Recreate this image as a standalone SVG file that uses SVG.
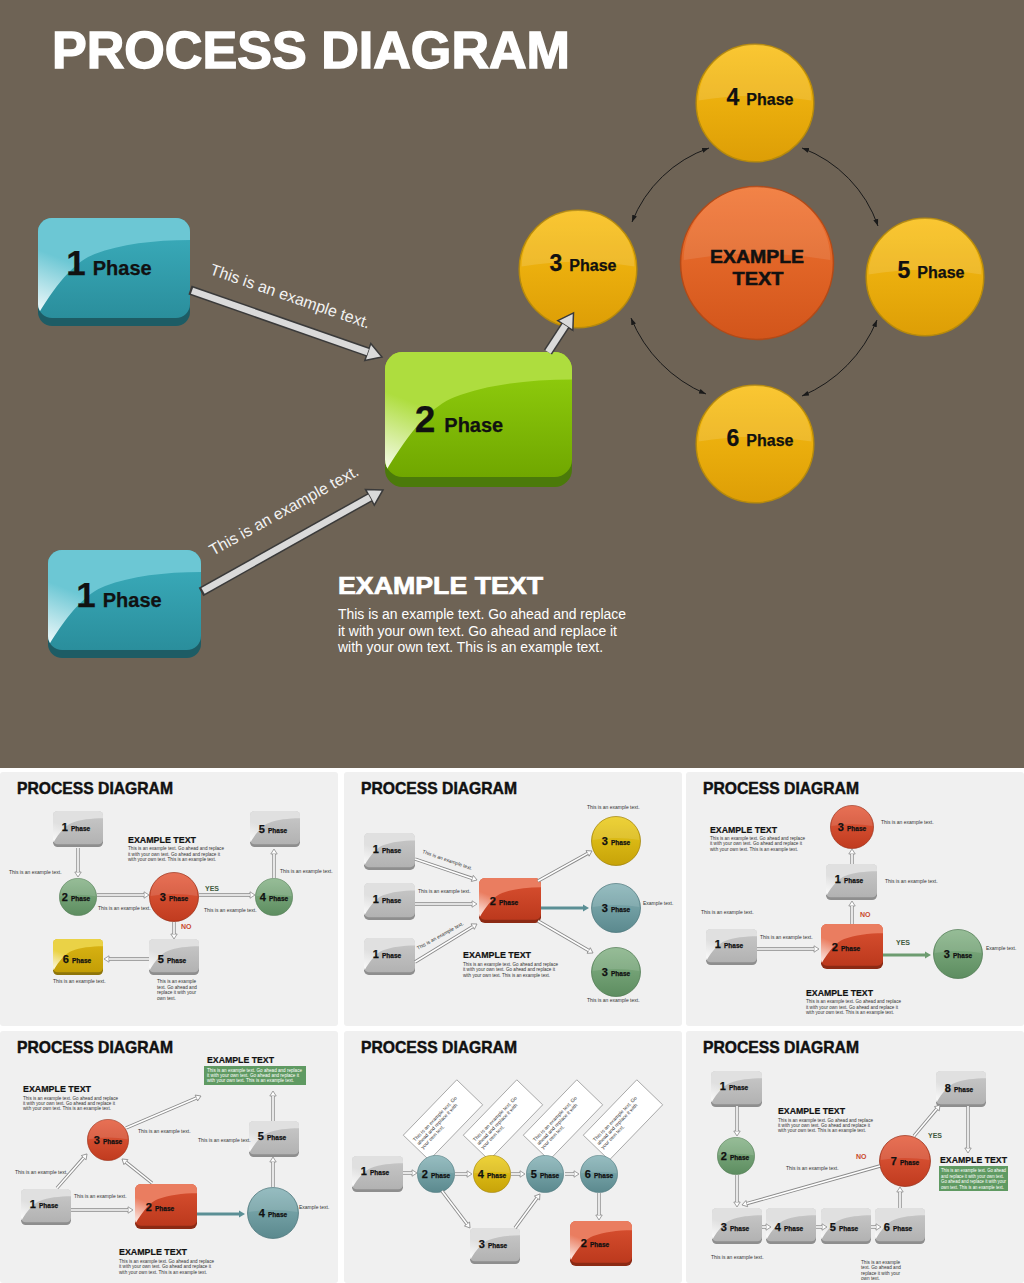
<svg xmlns="http://www.w3.org/2000/svg" xmlns:xlink="http://www.w3.org/1999/xlink" width="1024" height="1283" viewBox="0 0 1024 1283">
<style>
text{font-family:"Liberation Sans",Arial,Helvetica,sans-serif}
.big{font-size:52px;font-weight:bold;fill:#fff;stroke:#fff;stroke-width:1.4}
.rt{font-size:16px;fill:#f2f2f2}
.wh{font-size:24px;font-weight:bold;fill:#fff;stroke:#fff;stroke-width:.7}
.wp{font-size:14px;fill:#fff}
.lb{fill:#111;font-weight:bold;stroke:#111;stroke-width:.25}
.n35{font-size:35px}.p20{font-size:20px}
.n23{font-size:23px}.p16{font-size:16px}
.ct{font-size:18px;font-weight:bold;fill:#111;stroke:#111;stroke-width:.5}
.n{font-size:11px}.p{font-size:6.5px}
.tt{font-size:15.7px;font-weight:bold;fill:#111;stroke:#111;stroke-width:.45}
.h{font-size:9px;font-weight:bold;fill:#111;stroke:#111;stroke-width:.2}
.s{font-size:5px;fill:#333}
.pp{font-size:4.7px;fill:#333}
.gp{font-size:4.6px;fill:#fff}
.yes{font-size:7px;font-weight:bold;fill:#3f5a40}
.no{font-size:7px;font-weight:bold;fill:#c9482c}
.pan{fill:#f0f0f0}
.nb{fill:#fff;stroke:#7a7a7a;stroke-width:.6}
.co{fill:none;stroke:#8a8a8a;stroke-width:3.4;marker-end:url(#mh)}
.ci{fill:none;stroke:#fff;stroke-width:1.6}
.bo{fill:none;stroke:#3a3a3a;stroke-width:9.5;marker-end:url(#mb)}
.bi{fill:none;stroke:#dadada;stroke-width:6.5}
.arc{fill:none;stroke:#1a1a1a;stroke-width:1;marker-start:url(#mk);marker-end:url(#mk)}
.st{fill:none;stroke:#5b8f95;stroke-width:3;marker-end:url(#mt)}
.sg{fill:none;stroke:#6d9c70;stroke-width:3;marker-end:url(#mg)}
</style>
<defs>
<clipPath id="clb"><rect width="150" height="100" rx="14"/></clipPath>
<linearGradient id="fT" x1="0" y1="0" x2="0" y2="1"><stop offset="0" stop-color="#3cafbe"/><stop offset="1" stop-color="#2a8e9c"/></linearGradient>
<linearGradient id="wT" x1="0" y1="1" x2="0.3" y2="0.5"><stop offset="0" stop-color="#fff"/><stop offset="1" stop-color="#6cc7d4"/></linearGradient>
<linearGradient id="fG" x1="0" y1="0" x2="0" y2="1"><stop offset="0" stop-color="#94d20f"/><stop offset="1" stop-color="#70a700"/></linearGradient>
<linearGradient id="wG" x1="0" y1="1" x2="0.3" y2="0.5"><stop offset="0" stop-color="#fff"/><stop offset="1" stop-color="#aedd3e"/></linearGradient>
<linearGradient id="fS" x1="0" y1="0" x2="0" y2="1"><stop offset="0" stop-color="#c9c9c9"/><stop offset="1" stop-color="#b2b2b2"/></linearGradient>
<linearGradient id="wS" x1="0" y1="1" x2="0.3" y2="0.5"><stop offset="0" stop-color="#fff"/><stop offset="1" stop-color="#e0e0e0"/></linearGradient>
<linearGradient id="fR" x1="0" y1="0" x2="0" y2="1"><stop offset="0" stop-color="#da5131"/><stop offset="1" stop-color="#bc391d"/></linearGradient>
<linearGradient id="wR" x1="0" y1="1" x2="0.3" y2="0.5"><stop offset="0" stop-color="#fff"/><stop offset="1" stop-color="#ea7d60"/></linearGradient>
<linearGradient id="fY" x1="0" y1="0" x2="0" y2="1"><stop offset="0" stop-color="#dcb615"/><stop offset="1" stop-color="#c39e06"/></linearGradient>
<linearGradient id="wY" x1="0" y1="1" x2="0.3" y2="0.5"><stop offset="0" stop-color="#fff"/><stop offset="1" stop-color="#ead246"/></linearGradient>
<linearGradient id="gY" x1="0" y1="0" x2="0" y2="1"><stop offset="0" stop-color="#f9bf14"/><stop offset="1" stop-color="#dd9e06"/></linearGradient>
<linearGradient id="gO" x1="0" y1="0" x2="0" y2="1"><stop offset="0" stop-color="#f17533"/><stop offset="1" stop-color="#d2551b"/></linearGradient>
<linearGradient id="gR" x1="0" y1="0" x2="0" y2="1"><stop offset="0" stop-color="#e55d3e"/><stop offset="1" stop-color="#c03b1f"/></linearGradient>
<linearGradient id="gG" x1="0" y1="0" x2="0" y2="1"><stop offset="0" stop-color="#88b489"/><stop offset="1" stop-color="#5d8d60"/></linearGradient>
<linearGradient id="gT" x1="0" y1="0" x2="0" y2="1"><stop offset="0" stop-color="#88b4b8"/><stop offset="1" stop-color="#5b898e"/></linearGradient>
<linearGradient id="gD" x1="0" y1="0" x2="0" y2="1"><stop offset="0" stop-color="#ebcc1d"/><stop offset="1" stop-color="#c7a309"/></linearGradient>
<symbol id="bT" viewBox="0 0 150 108" preserveAspectRatio="none"><rect y="8" width="150" height="100" rx="14" fill="#1d5c65"/><rect width="150" height="100" rx="14" fill="url(#fT)"/><path clip-path="url(#clb)" d="M-2,100 L-2,-2 H152 V22 C115,22 82,26 56,36 C38,43 20,62 -2,100 Z" fill="url(#wT)"/></symbol>
<symbol id="bG" viewBox="0 0 150 108" preserveAspectRatio="none"><rect y="8" width="150" height="100" rx="14" fill="#4b7a0a"/><rect width="150" height="100" rx="14" fill="url(#fG)"/><path clip-path="url(#clb)" d="M-2,100 L-2,-2 H152 V22 C115,22 82,26 56,36 C38,43 20,62 -2,100 Z" fill="url(#wG)"/></symbol>
<symbol id="bS" viewBox="0 0 150 108" preserveAspectRatio="none"><rect y="8" width="150" height="100" rx="14" fill="#8e8e8e"/><rect width="150" height="100" rx="14" fill="url(#fS)"/><path clip-path="url(#clb)" d="M-2,100 L-2,-2 H152 V22 C115,22 82,26 56,36 C38,43 20,62 -2,100 Z" fill="url(#wS)"/></symbol>
<symbol id="bR" viewBox="0 0 150 108" preserveAspectRatio="none"><rect y="8" width="150" height="100" rx="14" fill="#8c2a14"/><rect width="150" height="100" rx="14" fill="url(#fR)"/><path clip-path="url(#clb)" d="M-2,100 L-2,-2 H152 V22 C115,22 82,26 56,36 C38,43 20,62 -2,100 Z" fill="url(#wR)"/></symbol>
<symbol id="bY" viewBox="0 0 150 108" preserveAspectRatio="none"><rect y="8" width="150" height="100" rx="14" fill="#8e750a"/><rect width="150" height="100" rx="14" fill="url(#fY)"/><path clip-path="url(#clb)" d="M-2,100 L-2,-2 H152 V22 C115,22 82,26 56,36 C38,43 20,62 -2,100 Z" fill="url(#wY)"/></symbol>
<symbol id="cY" viewBox="0 0 100 100"><circle cx="50" cy="50" r="49" fill="url(#gY)" stroke="#b68a0c" stroke-width="1.2"/><path d="M3,48 A47,47 0 0 1 97,48 Q50,40 3,48 Z" fill="#fff" opacity=".13"/></symbol>
<symbol id="cO" viewBox="0 0 100 100"><circle cx="50" cy="50" r="49" fill="url(#gO)" stroke="#b24a18" stroke-width="1"/><path d="M3,48 A47,47 0 0 1 97,48 Q50,40 3,48 Z" fill="#fff" opacity=".1"/></symbol>
<symbol id="cR" viewBox="0 0 100 100"><circle cx="50" cy="50" r="49" fill="url(#gR)" stroke="#9a3018" stroke-width="1.5"/><path d="M3,48 A47,47 0 0 1 97,48 Q50,40 3,48 Z" fill="#fff" opacity=".12"/></symbol>
<symbol id="cG" viewBox="0 0 100 100"><circle cx="50" cy="50" r="49" fill="url(#gG)" stroke="#4f7a52" stroke-width="1.5"/><path d="M3,48 A47,47 0 0 1 97,48 Q50,40 3,48 Z" fill="#fff" opacity=".12"/></symbol>
<symbol id="cT" viewBox="0 0 100 100"><circle cx="50" cy="50" r="49" fill="url(#gT)" stroke="#4d777c" stroke-width="1.5"/><path d="M3,48 A47,47 0 0 1 97,48 Q50,40 3,48 Z" fill="#fff" opacity=".12"/></symbol>
<symbol id="cD" viewBox="0 0 100 100"><circle cx="50" cy="50" r="49" fill="url(#gD)" stroke="#a08208" stroke-width="1.5"/><path d="M3,48 A47,47 0 0 1 97,48 Q50,40 3,48 Z" fill="#fff" opacity=".12"/></symbol>
<marker id="mh" viewBox="-1 -4 7 8" refX="0" refY="0" markerWidth="7" markerHeight="8" markerUnits="userSpaceOnUse" orient="auto"><path d="M0,-3.2 L5,0 L0,3.2 Z" fill="#fff" stroke="#8a8a8a" stroke-width=".8"/></marker>
<marker id="mt" viewBox="0 -4 6 8" refX="0" refY="0" markerWidth="6" markerHeight="8" markerUnits="userSpaceOnUse" orient="auto"><path d="M0,-3.6 L6,0 L0,3.6 Z" fill="#5b8f95"/></marker>
<marker id="mg" viewBox="0 -4 6 8" refX="0" refY="0" markerWidth="6" markerHeight="8" markerUnits="userSpaceOnUse" orient="auto"><path d="M0,-3.6 L6,0 L0,3.6 Z" fill="#6d9c70"/></marker>
<marker id="mb" viewBox="-1 -11 18 22" refX="0" refY="0" markerWidth="18" markerHeight="22" markerUnits="userSpaceOnUse" orient="auto"><path d="M0,-9 L15,0 L0,9 Z" fill="#dadada" stroke="#3a3a3a" stroke-width="1.5"/></marker>
<marker id="mk" viewBox="0 -3 7 6" refX="7" refY="0" markerWidth="7" markerHeight="6" markerUnits="userSpaceOnUse" orient="auto-start-reverse"><path d="M0,-2.5 L7,0 L0,2.5 Z" fill="#1a1a1a"/></marker>
</defs>

<!-- backgrounds -->
<rect width="1024" height="1283" fill="#fff"/>
<rect width="1024" height="768" fill="#6e6355"/>
<rect class="pan" x="0" y="772" width="338" height="254" rx="3"/>
<rect class="pan" x="344" y="772" width="338" height="254" rx="3"/>
<rect class="pan" x="686" y="772" width="338" height="254" rx="3"/>
<rect class="pan" x="0" y="1031" width="338" height="252" rx="3"/>
<rect class="pan" x="344" y="1031" width="338" height="252" rx="3"/>
<rect class="pan" x="686" y="1031" width="338" height="252" rx="3"/>

<!-- ===== main diagram ===== -->
<text class="big" x="52" y="68" textLength="518" lengthAdjust="spacingAndGlyphs">PROCESS DIAGRAM</text>

<g id="m-n1a" transform="translate(38,218)"><use href="#bT" width="152" height="108"/><text class="lb" x="71" y="57" text-anchor="middle"><tspan class="n35">1</tspan><tspan class="p20" dx="7">Phase</tspan></text></g>
<g id="m-n1b" transform="translate(48,550)"><use href="#bT" width="153" height="108"/><text class="lb" x="71" y="57" text-anchor="middle"><tspan class="n35">1</tspan><tspan class="p20" dx="7">Phase</tspan></text></g>
<g id="m-n2" transform="translate(385,352)"><use href="#bG" width="187" height="135"/><text class="lb" x="74" y="80" text-anchor="middle"><tspan style="font-size:37px">2</tspan><tspan class="p20" dx="9">Phase</tspan></text></g>
<g id="m-c3"><use href="#cY" x="518" y="209" width="120" height="120"/><text class="lb" x="583" y="271" text-anchor="middle"><tspan class="n23">3</tspan><tspan class="p16" dx="7">Phase</tspan></text></g>
<g id="m-c4"><use href="#cY" x="695" y="43" width="120" height="120"/><text class="lb" x="760" y="105" text-anchor="middle"><tspan class="n23">4</tspan><tspan class="p16" dx="7">Phase</tspan></text></g>
<g id="m-c5"><use href="#cY" x="865" y="217" width="120" height="120"/><text class="lb" x="931" y="278" text-anchor="middle"><tspan class="n23">5</tspan><tspan class="p16" dx="7">Phase</tspan></text></g>
<g id="m-c6"><use href="#cY" x="695" y="384" width="120" height="120"/><text class="lb" x="760" y="446" text-anchor="middle"><tspan class="n23">6</tspan><tspan class="p16" dx="7">Phase</tspan></text></g>
<g id="m-center"><use href="#cO" x="679" y="185" width="156" height="156"/><text class="ct" x="757" y="263" text-anchor="middle" textLength="94" lengthAdjust="spacingAndGlyphs">EXAMPLE</text><text class="ct" x="758" y="285" text-anchor="middle" textLength="51" lengthAdjust="spacingAndGlyphs">TEXT</text></g>

<text class="rt" transform="translate(209,274) rotate(19)">This is an example text.</text>
<text class="rt" transform="translate(213,556) rotate(-29)">This is an example text.</text>
<g id="m-note"><text class="wh" x="338" y="594" textLength="205" lengthAdjust="spacingAndGlyphs">EXAMPLE TEXT</text>
<text class="wp" x="338" y="619" textLength="288" lengthAdjust="spacingAndGlyphs">This is an example text. Go ahead and replace</text>
<text class="wp" x="338" y="636" textLength="279" lengthAdjust="spacingAndGlyphs">it with your own text. Go ahead and replace it</text>
<text class="wp" x="338" y="652" textLength="265" lengthAdjust="spacingAndGlyphs">with your own text. This is an example text.</text></g>

<g id="m-connectors">
<path class="bo" d="M190,290 L367.8,352.1"/><path class="bi" d="M192,290.7 L367.8,352.1"/>
<path class="bo" d="M201,592 L369.9,497.3"/><path class="bi" d="M203,590.9 L369.9,497.3"/>
<path class="bo" d="M548,352 L565.3,325.5"/><path class="bi" d="M548,352 L565.3,325.5"/>
<path class="arc" d="M632,222 A128,128 0 0 1 709,148"/>
<path class="arc" d="M802,148 A128,128 0 0 1 878,226"/>
<path class="arc" d="M877,320 A140,140 0 0 1 802,396"/>
<path class="arc" d="M706,394 A140,140 0 0 1 631,318"/>
</g>

<!-- ===== panel 1 ===== -->
<text class="tt" x="17" y="794" textLength="156" lengthAdjust="spacingAndGlyphs">PROCESS DIAGRAM</text>
<g id="p1-b1" transform="translate(53,811)"><use href="#bS" width="50" height="36"/><text class="lb" x="23" y="20" text-anchor="middle"><tspan class="n">1</tspan><tspan class="p" dx="3">Phase</tspan></text></g>
<g id="p1-b5" transform="translate(250,811)"><use href="#bS" width="50" height="36"/><text class="lb" x="23" y="22" text-anchor="middle"><tspan class="n">5</tspan><tspan class="p" dx="3">Phase</tspan></text></g>
<g id="p1-c2"><use href="#cG" x="59" y="878" width="38" height="38"/><text class="lb" x="76" y="900.5" text-anchor="middle"><tspan class="n">2</tspan><tspan class="p" dx="3">Phase</tspan></text></g>
<g id="p1-c3"><use href="#cR" x="149" y="872" width="50" height="50"/><text class="lb" x="174" y="900.5" text-anchor="middle"><tspan class="n">3</tspan><tspan class="p" dx="3">Phase</tspan></text></g>
<g id="p1-c4"><use href="#cG" x="255" y="878" width="38" height="38"/><text class="lb" x="274" y="900.5" text-anchor="middle"><tspan class="n">4</tspan><tspan class="p" dx="3">Phase</tspan></text></g>
<g id="p1-b5b" transform="translate(149,939)"><use href="#bS" width="50" height="36"/><text class="lb" x="23" y="24" text-anchor="middle"><tspan class="n">5</tspan><tspan class="p" dx="3">Phase</tspan></text></g>
<g id="p1-b6" transform="translate(53,939)"><use href="#bY" width="50" height="36"/><text class="lb" x="24" y="24" text-anchor="middle"><tspan class="n">6</tspan><tspan class="p" dx="3">Phase</tspan></text></g>
<text class="h" x="128" y="843" textLength="68" lengthAdjust="spacingAndGlyphs">EXAMPLE TEXT</text>
<text class="pp" x="128" y="850" textLength="96" lengthAdjust="spacingAndGlyphs">This is an example text. Go ahead and replace</text>
<text class="pp" x="128" y="856" textLength="92" lengthAdjust="spacingAndGlyphs">it with your own text. Go ahead and replace it</text>
<text class="pp" x="128" y="861" textLength="88" lengthAdjust="spacingAndGlyphs">with your own text. This is an example text.</text>
<text class="s" x="9" y="874">This is an example text.</text>
<text class="s" x="98" y="910">This is an example text.</text>
<text class="s" x="204" y="912">This is an example text.</text>
<text class="s" x="280" y="873">This is an example text.</text>
<text class="s" x="53" y="983">This is an example text.</text>
<text class="yes" x="205" y="891">YES</text>
<text class="no" x="181" y="929">NO</text>
<text class="pp" x="157" y="983">This is an example</text>
<text class="pp" x="157" y="989">text. Go ahead and</text>
<text class="pp" x="157" y="994">replace it with your</text>
<text class="pp" x="157" y="1000">own text.</text>

<!-- ===== panel 2 ===== -->
<text class="tt" x="361" y="794" textLength="156" lengthAdjust="spacingAndGlyphs">PROCESS DIAGRAM</text>
<g id="p2-b1a" transform="translate(364,833)"><use href="#bS" width="51" height="37"/><text class="lb" x="23" y="20" text-anchor="middle"><tspan class="n">1</tspan><tspan class="p" dx="3">Phase</tspan></text></g>
<g id="p2-b1b" transform="translate(364,883)"><use href="#bS" width="51" height="37"/><text class="lb" x="23" y="20" text-anchor="middle"><tspan class="n">1</tspan><tspan class="p" dx="3">Phase</tspan></text></g>
<g id="p2-b1c" transform="translate(364,938)"><use href="#bS" width="51" height="37"/><text class="lb" x="23" y="20" text-anchor="middle"><tspan class="n">1</tspan><tspan class="p" dx="3">Phase</tspan></text></g>
<g id="p2-b2" transform="translate(479,878)"><use href="#bR" width="62" height="45"/><text class="lb" x="25" y="27" text-anchor="middle"><tspan class="n">2</tspan><tspan class="p" dx="3">Phase</tspan></text></g>
<g id="p2-c3a"><use href="#cD" x="591" y="816" width="50" height="50"/><text class="lb" x="616" y="844.5" text-anchor="middle"><tspan class="n">3</tspan><tspan class="p" dx="3">Phase</tspan></text></g>
<g id="p2-c3b"><use href="#cT" x="591" y="883" width="50" height="50"/><text class="lb" x="616" y="911.5" text-anchor="middle"><tspan class="n">3</tspan><tspan class="p" dx="3">Phase</tspan></text></g>
<g id="p2-c3c"><use href="#cG" x="591" y="947" width="50" height="50"/><text class="lb" x="616" y="975.5" text-anchor="middle"><tspan class="n">3</tspan><tspan class="p" dx="3">Phase</tspan></text></g>
<text class="s" transform="translate(422,853) rotate(19)">This is an example text.</text>
<text class="s" x="418" y="893">This is an example text.</text>
<text class="s" transform="translate(418,950) rotate(-29)">This is an example text.</text>
<text class="s" x="587" y="809">This is an example text.</text>
<text class="s" x="643" y="905">Example text.</text>
<text class="s" x="587" y="1002">This is an example text.</text>
<text class="h" x="463" y="958" textLength="68" lengthAdjust="spacingAndGlyphs">EXAMPLE TEXT</text>
<text class="pp" x="463" y="966" textLength="95" lengthAdjust="spacingAndGlyphs">This is an example text. Go ahead and replace</text>
<text class="pp" x="463" y="971" textLength="92" lengthAdjust="spacingAndGlyphs">it with your own text. Go ahead and replace it</text>
<text class="pp" x="463" y="977" textLength="87" lengthAdjust="spacingAndGlyphs">with your own text. This is an example text.</text>

<!-- ===== panel 3 ===== -->
<text class="tt" x="703" y="794" textLength="156" lengthAdjust="spacingAndGlyphs">PROCESS DIAGRAM</text>
<g id="p3-c3a"><use href="#cR" x="830" y="805" width="44" height="44"/><text class="lb" x="852" y="830.5" text-anchor="middle"><tspan class="n">3</tspan><tspan class="p" dx="3">Phase</tspan></text></g>
<g id="p3-b1a" transform="translate(826,864)"><use href="#bS" width="51" height="36"/><text class="lb" x="23" y="19" text-anchor="middle"><tspan class="n">1</tspan><tspan class="p" dx="3">Phase</tspan></text></g>
<g id="p3-b1b" transform="translate(706,929)"><use href="#bS" width="51" height="36"/><text class="lb" x="23" y="19" text-anchor="middle"><tspan class="n">1</tspan><tspan class="p" dx="3">Phase</tspan></text></g>
<g id="p3-b2" transform="translate(821,924)"><use href="#bR" width="62" height="45"/><text class="lb" x="25" y="27" text-anchor="middle"><tspan class="n">2</tspan><tspan class="p" dx="3">Phase</tspan></text></g>
<g id="p3-c3b"><use href="#cG" x="933" y="929" width="50" height="50"/><text class="lb" x="958" y="958" text-anchor="middle"><tspan class="n">3</tspan><tspan class="p" dx="3">Phase</tspan></text></g>
<text class="h" x="710" y="833" textLength="67" lengthAdjust="spacingAndGlyphs">EXAMPLE TEXT</text>
<text class="pp" x="710" y="840" textLength="95" lengthAdjust="spacingAndGlyphs">This is an example text. Go ahead and replace</text>
<text class="pp" x="710" y="845" textLength="92" lengthAdjust="spacingAndGlyphs">it with your own text. Go ahead and replace it</text>
<text class="pp" x="710" y="851" textLength="88" lengthAdjust="spacingAndGlyphs">with your own text. This is an example text.</text>
<text class="s" x="881" y="824">This is an example text.</text>
<text class="s" x="885" y="883">This is an example text.</text>
<text class="s" x="701" y="914">This is an example text.</text>
<text class="s" x="760" y="939">This is an example text.</text>
<text class="no" x="860" y="917">NO</text>
<text class="yes" x="896" y="945">YES</text>
<text class="s" x="986" y="950">Example text.</text>
<text class="h" x="806" y="996" textLength="67" lengthAdjust="spacingAndGlyphs">EXAMPLE TEXT</text>
<text class="pp" x="806" y="1003" textLength="95" lengthAdjust="spacingAndGlyphs">This is an example text. Go ahead and replace</text>
<text class="pp" x="806" y="1009" textLength="92" lengthAdjust="spacingAndGlyphs">it with your own text. Go ahead and replace it</text>
<text class="pp" x="806" y="1014" textLength="88" lengthAdjust="spacingAndGlyphs">with your own text. This is an example text.</text>

<!-- ===== panel 4 ===== -->
<text class="tt" x="17" y="1053" textLength="156" lengthAdjust="spacingAndGlyphs">PROCESS DIAGRAM</text>
<g id="p4-c3"><use href="#cR" x="87" y="1119" width="42" height="42"/><text class="lb" x="108" y="1144" text-anchor="middle"><tspan class="n">3</tspan><tspan class="p" dx="3">Phase</tspan></text></g>
<g id="p4-b1" transform="translate(21,1189)"><use href="#bS" width="50" height="36"/><text class="lb" x="23" y="19" text-anchor="middle"><tspan class="n">1</tspan><tspan class="p" dx="3">Phase</tspan></text></g>
<g id="p4-b2" transform="translate(135,1184)"><use href="#bR" width="62" height="45"/><text class="lb" x="25" y="27" text-anchor="middle"><tspan class="n">2</tspan><tspan class="p" dx="3">Phase</tspan></text></g>
<g id="p4-c4"><use href="#cT" x="247" y="1187" width="52" height="52"/><text class="lb" x="273" y="1217" text-anchor="middle"><tspan class="n">4</tspan><tspan class="p" dx="3">Phase</tspan></text></g>
<g id="p4-b5" transform="translate(249,1121)"><use href="#bS" width="50" height="36"/><text class="lb" x="23" y="19" text-anchor="middle"><tspan class="n">5</tspan><tspan class="p" dx="3">Phase</tspan></text></g>
<g id="p4-note"><text class="h" x="207" y="1063" textLength="67" lengthAdjust="spacingAndGlyphs">EXAMPLE TEXT</text>
<rect x="204" y="1066" width="102" height="19" fill="#5f9a62"/>
<text class="gp" x="207" y="1072" textLength="95" lengthAdjust="spacingAndGlyphs">This is an example text. Go ahead and replace</text>
<text class="gp" x="207" y="1077" textLength="92" lengthAdjust="spacingAndGlyphs">it with your own text. Go ahead and replace it</text>
<text class="gp" x="207" y="1082" textLength="87" lengthAdjust="spacingAndGlyphs">with your own text. This is an example text.</text></g>
<text class="h" x="23" y="1092" textLength="68" lengthAdjust="spacingAndGlyphs">EXAMPLE TEXT</text>
<text class="pp" x="23" y="1100" textLength="95" lengthAdjust="spacingAndGlyphs">This is an example text. Go ahead and replace</text>
<text class="pp" x="23" y="1105" textLength="92" lengthAdjust="spacingAndGlyphs">it with your own text. Go ahead and replace it</text>
<text class="pp" x="23" y="1110" textLength="88" lengthAdjust="spacingAndGlyphs">with your own text. This is an example text.</text>
<text class="s" x="138" y="1133">This is an example text.</text>
<text class="s" x="15" y="1174">This is an example text.</text>
<text class="s" x="74" y="1198">This is an example text.</text>
<text class="s" x="198" y="1142">This is an example text.</text>
<text class="s" x="299" y="1209">Example text.</text>
<text class="h" x="119" y="1255" textLength="68" lengthAdjust="spacingAndGlyphs">EXAMPLE TEXT</text>
<text class="pp" x="119" y="1263" textLength="95" lengthAdjust="spacingAndGlyphs">This is an example text. Go ahead and replace</text>
<text class="pp" x="119" y="1268" textLength="92" lengthAdjust="spacingAndGlyphs">it with your own text. Go ahead and replace it</text>
<text class="pp" x="119" y="1274" textLength="88" lengthAdjust="spacingAndGlyphs">with your own text. This is an example text.</text>

<!-- ===== panel 5 ===== -->
<text class="tt" x="361" y="1053" textLength="156" lengthAdjust="spacingAndGlyphs">PROCESS DIAGRAM</text>
<g id="p5-note1" transform="translate(443,1120) rotate(-46)"><rect class="nb" x="-38.5" y="-18" width="77" height="36"/><text class="s" x="-35" y="-5">This is an example text. Go</text><text class="s" x="-35" y="0.5">ahead and replace it with</text><text class="s" x="-35" y="6">your own text.</text></g>
<g id="p5-note2" transform="translate(503,1120) rotate(-46)"><rect class="nb" x="-38.5" y="-18" width="77" height="36"/><text class="s" x="-35" y="-5">This is an example text. Go</text><text class="s" x="-35" y="0.5">ahead and replace it with</text><text class="s" x="-35" y="6">your own text.</text></g>
<g id="p5-note3" transform="translate(563,1120) rotate(-46)"><rect class="nb" x="-38.5" y="-18" width="77" height="36"/><text class="s" x="-35" y="-5">This is an example text. Go</text><text class="s" x="-35" y="0.5">ahead and replace it with</text><text class="s" x="-35" y="6">your own text.</text></g>
<g id="p5-note4" transform="translate(623,1120) rotate(-46)"><rect class="nb" x="-38.5" y="-18" width="77" height="36"/><text class="s" x="-35" y="-5">This is an example text. Go</text><text class="s" x="-35" y="0.5">ahead and replace it with</text><text class="s" x="-35" y="6">your own text.</text></g>
<g id="p5-b1" transform="translate(352,1156)"><use href="#bS" width="51" height="36"/><text class="lb" x="23" y="19" text-anchor="middle"><tspan class="n">1</tspan><tspan class="p" dx="3">Phase</tspan></text></g>
<g id="p5-c2"><use href="#cT" x="417" y="1155" width="38" height="38"/><text class="lb" x="436" y="1178" text-anchor="middle"><tspan class="n">2</tspan><tspan class="p" dx="3">Phase</tspan></text></g>
<g id="p5-c4"><use href="#cD" x="473" y="1155" width="38" height="38"/><text class="lb" x="492" y="1178" text-anchor="middle"><tspan class="n">4</tspan><tspan class="p" dx="3">Phase</tspan></text></g>
<g id="p5-c5"><use href="#cT" x="526" y="1155" width="38" height="38"/><text class="lb" x="545" y="1178" text-anchor="middle"><tspan class="n">5</tspan><tspan class="p" dx="3">Phase</tspan></text></g>
<g id="p5-c6"><use href="#cT" x="580" y="1155" width="38" height="38"/><text class="lb" x="599" y="1178" text-anchor="middle"><tspan class="n">6</tspan><tspan class="p" dx="3">Phase</tspan></text></g>
<g id="p5-b3" transform="translate(470,1228)"><use href="#bS" width="50" height="36"/><text class="lb" x="23" y="20" text-anchor="middle"><tspan class="n">3</tspan><tspan class="p" dx="3">Phase</tspan></text></g>
<g id="p5-b2" transform="translate(570,1221)"><use href="#bR" width="62" height="45"/><text class="lb" x="25" y="26" text-anchor="middle"><tspan class="n">2</tspan><tspan class="p" dx="3">Phase</tspan></text></g>

<!-- ===== panel 6 ===== -->
<text class="tt" x="703" y="1053" textLength="156" lengthAdjust="spacingAndGlyphs">PROCESS DIAGRAM</text>
<g id="p6-b1" transform="translate(711,1071)"><use href="#bS" width="51" height="36"/><text class="lb" x="23" y="19" text-anchor="middle"><tspan class="n">1</tspan><tspan class="p" dx="3">Phase</tspan></text></g>
<g id="p6-c2"><use href="#cG" x="717" y="1137" width="38" height="38"/><text class="lb" x="735" y="1160" text-anchor="middle"><tspan class="n">2</tspan><tspan class="p" dx="3">Phase</tspan></text></g>
<g id="p6-c7"><use href="#cR" x="879" y="1135" width="52" height="52"/><text class="lb" x="905" y="1165" text-anchor="middle"><tspan class="n">7</tspan><tspan class="p" dx="3">Phase</tspan></text></g>
<g id="p6-b8" transform="translate(936,1071)"><use href="#bS" width="50" height="36"/><text class="lb" x="23" y="21" text-anchor="middle"><tspan class="n">8</tspan><tspan class="p" dx="3">Phase</tspan></text></g>
<g id="p6-b3" transform="translate(712,1208)"><use href="#bS" width="50" height="36"/><text class="lb" x="23" y="23" text-anchor="middle"><tspan class="n">3</tspan><tspan class="p" dx="3">Phase</tspan></text></g>
<g id="p6-b4" transform="translate(766,1208)"><use href="#bS" width="50" height="36"/><text class="lb" x="23" y="23" text-anchor="middle"><tspan class="n">4</tspan><tspan class="p" dx="3">Phase</tspan></text></g>
<g id="p6-b5" transform="translate(821,1208)"><use href="#bS" width="50" height="36"/><text class="lb" x="23" y="23" text-anchor="middle"><tspan class="n">5</tspan><tspan class="p" dx="3">Phase</tspan></text></g>
<g id="p6-b6" transform="translate(875,1208)"><use href="#bS" width="50" height="36"/><text class="lb" x="23" y="23" text-anchor="middle"><tspan class="n">6</tspan><tspan class="p" dx="3">Phase</tspan></text></g>
<text class="h" x="778" y="1114" textLength="67" lengthAdjust="spacingAndGlyphs">EXAMPLE TEXT</text>
<text class="pp" x="778" y="1122" textLength="95" lengthAdjust="spacingAndGlyphs">This is an example text. Go ahead and replace</text>
<text class="pp" x="778" y="1127" textLength="92" lengthAdjust="spacingAndGlyphs">it with your own text. Go ahead and replace it</text>
<text class="pp" x="778" y="1132" textLength="88" lengthAdjust="spacingAndGlyphs">with your own text. This is an example text.</text>
<text class="s" x="786" y="1170">This is an example text.</text>
<text class="no" x="856" y="1159">NO</text>
<text class="yes" x="928" y="1138">YES</text>
<g id="p6-note"><text class="h" x="940" y="1163" textLength="67" lengthAdjust="spacingAndGlyphs">EXAMPLE TEXT</text>
<rect x="939" y="1166" width="69" height="25" fill="#5f9a62"/>
<text class="gp" x="941" y="1172" textLength="65" lengthAdjust="spacingAndGlyphs">This is an example text. Go ahead</text>
<text class="gp" x="941" y="1178" textLength="63" lengthAdjust="spacingAndGlyphs">and replace it with your own text.</text>
<text class="gp" x="941" y="1183" textLength="65" lengthAdjust="spacingAndGlyphs">Go ahead and replace it with your</text>
<text class="gp" x="941" y="1189" textLength="63" lengthAdjust="spacingAndGlyphs">own text. This is an example text.</text></g>
<text class="s" x="711" y="1259">This is an example text.</text>
<text class="pp" x="861" y="1264">This is an example</text>
<text class="pp" x="861" y="1269">text. Go ahead and</text>
<text class="pp" x="861" y="1275">replace it with your</text>
<text class="pp" x="861" y="1280">own text.</text>

<!-- ===== thumbnail connectors ===== -->
<g id="connectors">
<path class="co" d="M78,848 L78,872"/><path class="ci" d="M78,848 L78,872"/>
<path class="co" d="M97,895 L144,895"/><path class="ci" d="M97,895 L144,895"/>
<path class="co" d="M199,895 L250,895"/><path class="ci" d="M199,895 L250,895"/>
<path class="co" d="M274,878 L274,854"/><path class="ci" d="M274,878 L274,854"/>
<path class="co" d="M174,922 L174,934"/><path class="ci" d="M174,922 L174,934"/>
<path class="co" d="M149,959 L109,959"/><path class="ci" d="M149,959 L109,959"/>
<path class="co" d="M415,859 L472.3,878.4"/><path class="ci" d="M415,859 L472.3,878.4"/>
<path class="co" d="M415,904 L472,904"/><path class="ci" d="M415,904 L472,904"/>
<path class="co" d="M415,962 L472.7,926.6"/><path class="ci" d="M415,962 L472.7,926.6"/>
<path class="co" d="M538,881 L587.6,853.4"/><path class="ci" d="M538,881 L587.6,853.4"/>
<path class="st" d="M541,908 L583,908"/>
<path class="co" d="M538,921 L588.7,950.5"/><path class="ci" d="M538,921 L588.7,950.5"/>
<path class="co" d="M852,924 L852,906"/><path class="ci" d="M852,924 L852,906"/>
<path class="co" d="M852,864 L852,854"/><path class="ci" d="M852,864 L852,854"/>
<path class="co" d="M757,949 L814,949"/><path class="ci" d="M757,949 L814,949"/>
<path class="sg" d="M883,955 L925,955"/>
<path class="co" d="M126,1128 L196.4,1098"/><path class="ci" d="M126,1128 L196.4,1098"/>
<path class="co" d="M57,1188 L83.7,1157.7"/><path class="ci" d="M57,1188 L83.7,1157.7"/>
<path class="co" d="M152,1183 L125.9,1162.1"/><path class="ci" d="M152,1183 L125.9,1162.1"/>
<path class="co" d="M71,1210 L128,1210"/><path class="ci" d="M71,1210 L128,1210"/>
<path class="st" d="M197,1214 L239,1214"/>
<path class="co" d="M273,1187 L273,1162"/><path class="ci" d="M273,1187 L273,1162"/>
<path class="co" d="M273,1121 L273,1096"/><path class="ci" d="M273,1121 L273,1096"/>
<path class="co" d="M403,1173 L412,1173"/><path class="ci" d="M403,1173 L412,1173"/>
<path class="co" d="M455,1174 L467,1174"/><path class="ci" d="M455,1174 L467,1174"/>
<path class="co" d="M511,1174 L520,1174"/><path class="ci" d="M511,1174 L520,1174"/>
<path class="co" d="M565,1174 L574,1174"/><path class="ci" d="M565,1174 L574,1174"/>
<path class="co" d="M442,1191 L467,1224"/><path class="ci" d="M442,1191 L467,1224"/>
<path class="co" d="M515,1228 L537,1198"/><path class="ci" d="M515,1228 L537,1198"/>
<path class="co" d="M599,1193 L599,1215"/><path class="ci" d="M599,1193 L599,1215"/>
<path class="co" d="M737,1106 L737,1131"/><path class="ci" d="M737,1106 L737,1131"/>
<path class="co" d="M737,1175 L737,1202"/><path class="ci" d="M737,1175 L737,1202"/>
<path class="co" d="M880,1166 L746.8,1203.6"/><path class="ci" d="M880,1166 L746.8,1203.6"/>
<path class="co" d="M914,1136 L936.8,1108.8"/><path class="ci" d="M914,1136 L936.8,1108.8"/>
<path class="co" d="M968,1106 L968,1148"/><path class="ci" d="M968,1106 L968,1148"/>
<path class="co" d="M762,1227 L766,1227"/><path class="ci" d="M762,1227 L766,1227"/>
<path class="co" d="M816,1227 L822,1227"/><path class="ci" d="M816,1227 L822,1227"/>
<path class="co" d="M871,1227 L876,1227"/><path class="ci" d="M871,1227 L876,1227"/>
<path class="co" d="M900,1208 L900,1192"/><path class="ci" d="M900,1208 L900,1192"/>
</g>
</svg>
